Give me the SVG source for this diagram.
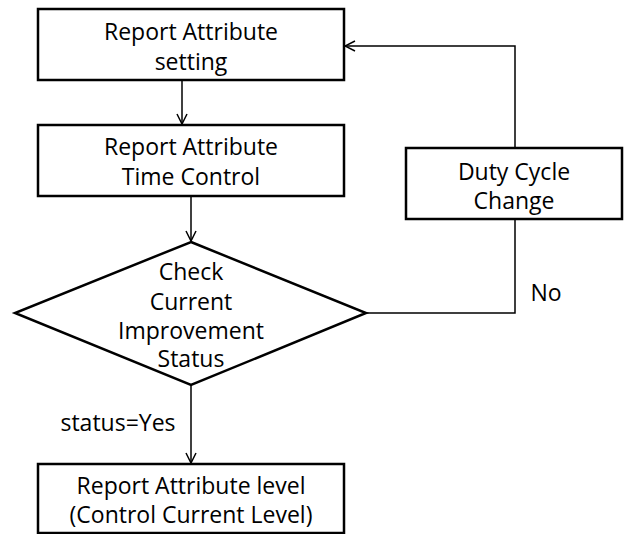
<svg xmlns="http://www.w3.org/2000/svg" width="625" height="534" viewBox="0 0 625 534">
<style>
.box{fill:#fff;stroke:#000;stroke-width:2.5}
.t{font-family:"Open Sans","Liberation Sans",sans-serif;font-size:23px;fill:#000;text-anchor:middle}
.c{fill:none;stroke:#000;stroke-width:1.5}
</style>
<defs>
<marker id="ah" viewBox="0 0 12 12" refX="11" refY="6" markerWidth="12" markerHeight="12" markerUnits="userSpaceOnUse" orient="auto">
<path d="M1,1 L11,6 L1,11" fill="none" stroke="#000" stroke-width="1.5"/>
</marker>
</defs>
<rect width="625" height="534" fill="#fff"/>
<g id="connectors">
<line class="c" x1="182" y1="80" x2="182" y2="124" marker-end="url(#ah)"/>
<line class="c" x1="191" y1="196" x2="191" y2="241" marker-end="url(#ah)"/>
<polyline class="c" points="366,313 515,313 515,219"/>
<polyline class="c" points="515,148 515,46 345,46" marker-end="url(#ah)"/>
<line class="c" x1="191" y1="385" x2="191" y2="463" marker-end="url(#ah)"/>
<text class="t" x="546" y="301">No</text>
<text class="t" x="118" y="431">status=Yes</text>
</g>
<g id="n1">
<rect class="box" x="38" y="9" width="306" height="71"/>
<text class="t" x="191" y="40">Report Attribute</text>
<text class="t" x="191" y="70">setting</text>
</g>
<g id="n2">
<rect class="box" x="38" y="125" width="306" height="71"/>
<text class="t" x="191" y="155">Report Attribute</text>
<text class="t" x="191" y="185">Time Control</text>
</g>
<g id="n3">
<rect class="box" x="406" y="148" width="216" height="71"/>
<text class="t" x="514" y="180">Duty Cycle</text>
<text class="t" x="514" y="209">Change</text>
</g>
<g id="n4">
<polygon class="box" points="191,242 366,313 191,385 15,313"/>
<text class="t" x="191" y="280">Check</text>
<text class="t" x="191" y="310">Current</text>
<text class="t" x="191" y="339">Improvement</text>
<text class="t" x="191" y="367">Status</text>
</g>
<g id="n5">
<rect class="box" x="38" y="464" width="306" height="69"/>
<text class="t" x="191" y="494">Report Attribute level</text>
<text class="t" x="191" y="523">(Control Current Level)</text>
</g>
</svg>
